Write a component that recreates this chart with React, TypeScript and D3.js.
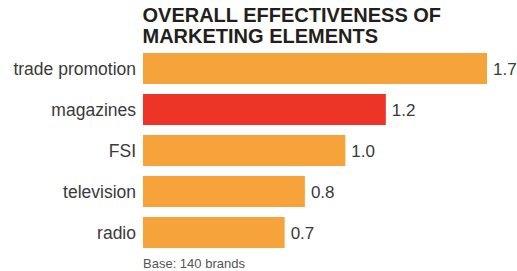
import React from "react";
import * as d3 from "d3";

const categories = ["trade promotion", "magazines", "FSI", "television", "radio"];
const values = [1.7, 1.2, 1.0, 0.8, 0.7];
const highlighted = ["magazines"];
const titleLines = ["OVERALL EFFECTIVENESS OF", "MARKETING ELEMENTS"];
const footnote = "Base: 140 brands";

export default function App() {
  const W = 517, H = 271;
  const x = d3.scaleLinear().domain([0, 1.7]).range([143, 487]);
  const y = d3.scaleBand().domain(categories).range([53, 248]).paddingInner(10 / 41).paddingOuter(0);
  const font = "'Liberation Sans', Arial, Helvetica, sans-serif";
  return (
    <svg width={W} height={H} style={{ position: "absolute", left: 0, top: 0 }} fontFamily={font}>
      {titleLines.map((t, i) => (
        <text key={t} x={142.5} y={21.5 + i * 21.2} fontSize={20} fontWeight="bold" fill="#231f20">{t}</text>
      ))}
      {categories.map((c, i) => {
        const yy = y(c)!;
        const bw = y.bandwidth();
        return (
          <g key={c}>
            <rect x={x(0)} y={yy} width={x(values[i]) - x(0)} height={bw}
              fill={highlighted.includes(c) ? "#ee3426" : "#f7a33c"} />
            <text x={136} y={yy + bw / 2 + 6} textAnchor="end" fontSize={17.5} fill="#3a3a3a">{c}</text>
            <text x={x(values[i]) + 6} y={yy + bw / 2 + 6} fontSize={17} fill="#3a3a3a">{d3.format(".1f")(values[i])}</text>
          </g>
        );
      })}
      <text x={143} y={268} fontSize={13} fill="#555">{footnote}</text>
    </svg>
  );
}
